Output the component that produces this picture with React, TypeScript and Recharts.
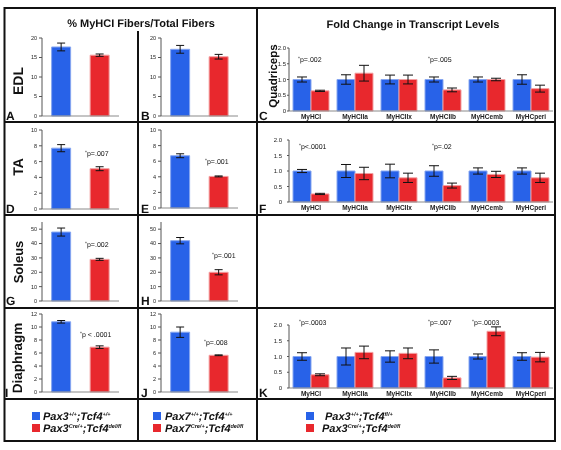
import { BarChart, Bar, XAxis, YAxis, Cell, ErrorBar } from 'recharts';

// genotype groups (control / mutant)
const genotypes = ['Control', 'Mutant'];

// % MyHCI fibers, Pax3 cross (left) and Pax7 cross (middle)
const edlPax3 = [17.7, 15.6];
const edlPax3Err = [1.0, 0.3];
const edlPax7 = [17.1, 15.2];
const edlPax7Err = [1.0, 0.6];
const taPax3 = [7.7, 5.1];
const taPax3Err = [0.45, 0.25];
const taPax7 = [6.7, 4.05];
const taPax7Err = [0.25, 0.06];
const soleusPax3 = [48, 29];
const soleusPax3Err = [2.8, 0.7];
const soleusPax7 = [42, 20];
const soleusPax7Err = [2.2, 1.8];
const diaPax3 = [10.8, 6.9];
const diaPax3Err = [0.2, 0.2];
const diaPax7 = [9.2, 5.65];
const diaPax7Err = [0.8, 0.06];

// fold change in transcript levels
const myhcTypes = ['MyHCI', 'MyHCIIa', 'MyHCIIx', 'MyHCIIb', 'MyHCemb', 'MyHCperi'];
const quadCtrl = [1, 1, 1, 1, 1, 1];
const quadCtrlErr = [0.08, 0.15, 0.14, 0.08, 0.08, 0.15];
const quadMut = [0.64, 1.2, 1.0, 0.67, 1.0, 0.71];
const quadMutErr = [0.02, 0.25, 0.14, 0.06, 0.04, 0.11];
const taCtrl = [1, 1, 1, 1, 1, 1];
const taCtrlErr = [0.05, 0.21, 0.22, 0.17, 0.1, 0.1];
const taMut = [0.26, 0.92, 0.78, 0.53, 0.89, 0.78];
const taMutErr = [0.02, 0.2, 0.15, 0.08, 0.1, 0.15];
const diaCtrl = [1, 1, 1, 1, 1, 1];
const diaCtrlErr = [0.12, 0.27, 0.18, 0.21, 0.08, 0.12];
const diaMut = [0.42, 1.13, 1.1, 0.32, 1.8, 0.98];
const diaMutErr = [0.03, 0.2, 0.17, 0.05, 0.14, 0.15];

const BLUE = '#2862e8';
const BLUE_EDGE = '#86a6f0';
const RED = '#e8282d';
const RED_EDGE = '#f3a0a2';
const FONT = '"Liberation Sans", Arial, sans-serif';
const FRAME = '#8a8a8a';
const INK = '#111';

function FiberPanel({ values, errors, max, ticks, plotLeft, plotTop, plotBottom }: any) {
  const axisW = 21;
  const plotW = 77;
  const data = genotypes.map((g, i) => ({ genotype: g, pct: values[i], err: errors[i] }));
  const height = plotBottom - plotTop + 2 + 1 + 2;
  return (
    <div style={{ position: 'absolute', left: plotLeft - axisW, top: plotTop - 2 }}>
      <BarChart width={axisW + plotW + 2} height={height} data={data}
        margin={{ top: 2, right: 2, bottom: 2, left: 0 }} barCategoryGap="25%">
        <XAxis dataKey="genotype" tick={false} tickLine={false} height={1} stroke={FRAME} />
        <XAxis xAxisId="top" orientation="top" dataKey="genotype" tick={false} tickLine={false} height={0} stroke={FRAME} />
        <YAxis domain={[0, max]} ticks={ticks} interval={0} width={axisW} tickSize={3} tickMargin={2}
          tick={{ fontSize: 5.5, fill: '#222', fontFamily: FONT }} stroke="#555" />
        <YAxis yAxisId="frame" orientation="right" tick={false} tickLine={false} width={0} stroke={FRAME} />
        <Bar dataKey="pct" isAnimationActive={false} strokeWidth={1}>
          {data.map((d, i) => (
            <Cell key={d.genotype} fill={i ? RED : BLUE} stroke={i ? RED_EDGE : BLUE_EDGE} />
          ))}
          <ErrorBar dataKey="err" width={4} stroke={INK} strokeWidth={1} />
        </Bar>
      </BarChart>
    </div>
  );
}

function FoldPanel({ ctrl, ctrlErr, mut, mutErr, plotTop, plotBottom, labelGap }: any) {
  const axisW = 22;
  const plotLeft = 289;
  const plotRight = 553;
  const xh = 10;
  const data = myhcTypes.map((m, i) => ({
    type: m, ctrl: ctrl[i], ctrlErr: ctrlErr[i], mut: mut[i], mutErr: mutErr[i],
  }));
  return (
    <div style={{ position: 'absolute', left: plotLeft - axisW, top: plotTop - 4 }}>
      <BarChart width={plotRight - plotLeft + axisW + 1} height={plotBottom - plotTop + 4 + xh} data={data}
        margin={{ top: 4, right: 1, bottom: 0, left: 0 }} barGap={0}>
        <XAxis dataKey="type" interval={0} height={xh} tickSize={2} tickMargin={1} tickLine={false}
          tick={{ fontSize: 6.5, fontWeight: 'bold', fill: '#222', fontFamily: FONT }} stroke={FRAME} />
        <YAxis domain={[0, 2]} ticks={[0, 0.5, 1, 1.5, 2]} interval={0} width={axisW} tickSize={2} tickMargin={labelGap}
          tickFormatter={(v: number) => (v === 0 ? '0' : v.toFixed(1))}
          tick={{ fontSize: 6, fill: '#222', fontFamily: FONT }} stroke="#555" />
        <Bar dataKey="ctrl" fill={BLUE} stroke={BLUE_EDGE} barSize={18} isAnimationActive={false}>
          <ErrorBar dataKey="ctrlErr" width={5} stroke={INK} strokeWidth={1} />
        </Bar>
        <Bar dataKey="mut" fill={RED} stroke={RED_EDGE} barSize={18} isAnimationActive={false}>
          <ErrorBar dataKey="mutErr" width={5} stroke={INK} strokeWidth={1} />
        </Bar>
      </BarChart>
    </div>
  );
}

function Pval({ x, y, text }: any) {
  return (
    <text x={x} y={y} fontSize={7} fill={INK}>
      <tspan fontSize={5} dy={-2} fill={INK}>*</tspan>
      <tspan dy={2} fill={INK}>{text}</tspan>
    </text>
  );
}

function Genotype({ x, y, a, b, c, d }: any) {
  return (
    <text x={x} y={y} fontSize={11} fontWeight="bold" fontStyle="italic" fill={INK}>
      <tspan>{a}</tspan>
      <tspan fontSize={5.5} dy={-4.5}>{b}</tspan>
      <tspan dy={4.5}>{c}</tspan>
      <tspan fontSize={5.5} dy={-4.5}>{d}</tspan>
    </text>
  );
}

function RowLabel({ x, y, text, size }: any) {
  return (
    <text x={x} y={y} transform={`rotate(-90 ${x} ${y})`} textAnchor="middle" fontSize={size} fontWeight="bold" fill={INK}>
      {text}
    </text>
  );
}

const letters = [
  ['A', 6, 120], ['B', 141, 120], ['C', 259, 120],
  ['D', 6, 213], ['E', 141, 213], ['F', 259, 213],
  ['G', 6, 305], ['H', 141, 305],
  ['I', 5, 397], ['J', 141, 397], ['K', 259, 397],
];

export default function App() {
  return (
    <div style={{ position: 'absolute', left: 0, top: 0, width: 561, height: 450, background: '#fff', fontFamily: FONT }}>
      <div style={{ position: 'absolute', left: 0, top: 0, width: 561, height: 450, willChange: 'transform' }}>
        <svg width={561} height={450} fontFamily={FONT} textRendering="geometricPrecision">
          <g stroke={INK} strokeWidth={2} fill="none">
            <rect x={4.5} y={8} width={550.5} height={433} />
            <line x1={4.5} y1={122} x2={555} y2={122} />
            <line x1={4.5} y1={215} x2={555} y2={215} />
            <line x1={4.5} y1={308} x2={555} y2={308} />
            <line x1={4.5} y1={399} x2={555} y2={399} />
            <line x1={138} y1={31} x2={138} y2={441} />
            <line x1={257} y1={8} x2={257} y2={441} />
          </g>
          <text x={141} y={27} textAnchor="middle" fontSize={11} fontWeight="bold" fill={INK}>% MyHCI Fibers/Total Fibers</text>
          <text x={413} y={28} textAnchor="middle" fontSize={11} fontWeight="bold" fill={INK}>Fold Change in Transcript Levels</text>

          <RowLabel x={23} y={81} text="EDL" size={14} />
          <RowLabel x={23} y={167} text="TA" size={14} />
          <RowLabel x={23} y={262} text="Soleus" size={13} />
          <RowLabel x={22} y={358} text="Diaphragm" size={13.5} />
          <RowLabel x={277} y={76} text="Quadriceps" size={11.5} />

          {letters.map(([l, x, y]) => (
            <text key={l as string} x={x as number} y={y as number} fontSize={12} fontWeight="bold" fill={INK}>{l}</text>
          ))}

          <Pval x={85} y={156} text="p=.007" />
          <Pval x={205} y={164} text="p=.001" />
          <Pval x={85} y={247} text="p=.002" />
          <Pval x={212} y={258} text="p=.001" />
          <Pval x={80} y={337} text="p < .0001" />
          <Pval x={204} y={345} text="p=.008" />
          <Pval x={298} y={62} text="p=.002" />
          <Pval x={428} y={62} text="p=.005" />
          <Pval x={299} y={149} text="p<.0001" />
          <Pval x={432} y={149} text="p=.02" />
          <Pval x={299} y={325} text="p=.0003" />
          <Pval x={428} y={325} text="p=.007" />
          <Pval x={472} y={325} text="p=.0003" />

          <rect x={32} y={412} width={8} height={8} fill={BLUE} />
          <rect x={32} y={424} width={8} height={8} fill={RED} />
          <Genotype x={43} y={420} a="Pax3" b="+/+" c=";Tcf4" d="+/+" />
          <Genotype x={43} y={432} a="Pax3" b="Cre/+" c=";Tcf4" d="del/fl" />
          <rect x={153} y={412} width={8} height={8} fill={BLUE} />
          <rect x={153} y={424} width={8} height={8} fill={RED} />
          <Genotype x={165} y={420} a="Pax7" b="+/+" c=";Tcf4" d="+/+" />
          <Genotype x={165} y={432} a="Pax7" b="Cre/+" c=";Tcf4" d="del/fl" />
          <rect x={306} y={412} width={8} height={8} fill={BLUE} />
          <rect x={306} y={424} width={8} height={8} fill={RED} />
          <Genotype x={325} y={420} a="Pax3" b="+/+" c=";Tcf4" d="fl/+" />
          <Genotype x={322} y={432} a="Pax3" b="Cre/+" c=";Tcf4" d="del/fl" />
        </svg>
      </div>

      <FiberPanel values={edlPax3} errors={edlPax3Err} max={20} ticks={[0, 5, 10, 15, 20]} plotLeft={42} plotTop={38} plotBottom={116} />
      <FiberPanel values={edlPax7} errors={edlPax7Err} max={20} ticks={[0, 5, 10, 15, 20]} plotLeft={161} plotTop={38} plotBottom={116} />
      <FiberPanel values={taPax3} errors={taPax3Err} max={10} ticks={[0, 2, 4, 6, 8, 10]} plotLeft={42} plotTop={130} plotBottom={209} />
      <FiberPanel values={taPax7} errors={taPax7Err} max={10} ticks={[0, 2, 4, 6, 8, 10]} plotLeft={161} plotTop={130} plotBottom={208} />
      <FiberPanel values={soleusPax3} errors={soleusPax3Err} max={55} ticks={[0, 10, 20, 30, 40, 50]} plotLeft={42} plotTop={222} plotBottom={301} />
      <FiberPanel values={soleusPax7} errors={soleusPax7Err} max={55} ticks={[0, 10, 20, 30, 40, 50]} plotLeft={161} plotTop={222} plotBottom={301} />
      <FiberPanel values={diaPax3} errors={diaPax3Err} max={12} ticks={[0, 2, 4, 6, 8, 10, 12]} plotLeft={42} plotTop={314} plotBottom={392} />
      <FiberPanel values={diaPax7} errors={diaPax7Err} max={12} ticks={[0, 2, 4, 6, 8, 10, 12]} plotLeft={161} plotTop={314} plotBottom={392} />

      <FoldPanel ctrl={quadCtrl} ctrlErr={quadCtrlErr} mut={quadMut} mutErr={quadMutErr} plotTop={48} plotBottom={111} labelGap={1} />
      <FoldPanel ctrl={taCtrl} ctrlErr={taCtrlErr} mut={taMut} mutErr={taMutErr} plotTop={140} plotBottom={202} labelGap={5} />
      <FoldPanel ctrl={diaCtrl} ctrlErr={diaCtrlErr} mut={diaMut} mutErr={diaMutErr} plotTop={325} plotBottom={388} labelGap={5} />
    </div>
  );
}
